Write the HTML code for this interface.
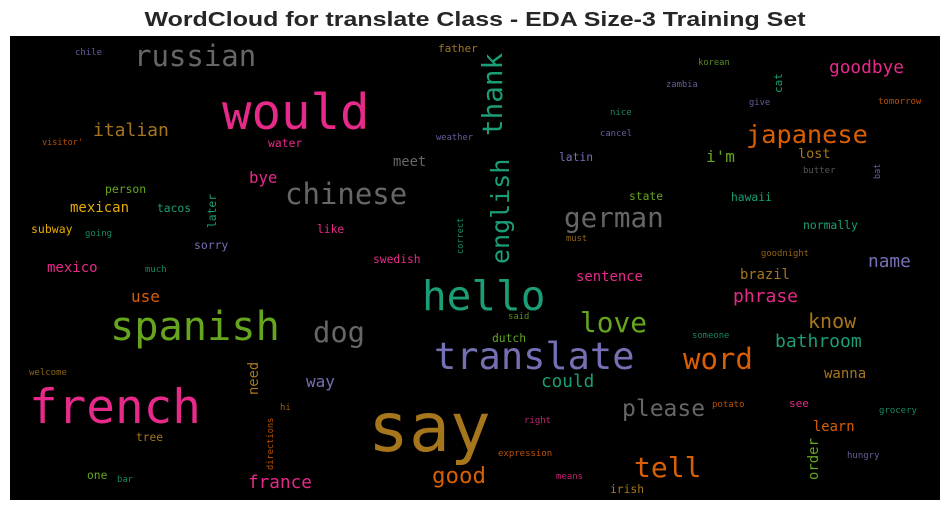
<!DOCTYPE html>
<html><head><meta charset="utf-8"><style>
html,body{margin:0;padding:0;background:#fff;width:950px;height:511px;overflow:hidden}
svg{display:block}
.w{font-family:"DejaVu Sans Mono","Liberation Mono",monospace}
</style></head><body>
<svg id="chart" width="950" height="511" viewBox="0 0 950 511">
<text x="475" y="26" text-anchor="middle" font-family="Liberation Sans, sans-serif" font-weight="bold" font-size="20" textLength="661" lengthAdjust="spacingAndGlyphs" fill="#262626">WordCloud for translate Class - EDA Size-3 Training Set</text>
<rect x="10" y="36" width="930" height="464" fill="#000"/>
<g id="words"></g>
</svg>
<script>
const words=["chile","russian","father","would","italian","visitor'","water","weather","meet","bye","chinese","person","mexican","tacos","later","subway","going","like","sorry","correct","swedish","mexico","much","thank","english","korean","goodbye","zambia","cat","give","tomorrow","nice","cancel","japanese","lost","i'm","latin","butter","bat","state","hawaii","german","normally","must","goodnight","name","use","spanish","dog","welcome","need","way","french","hi","tree","directions","one","bar","france","say","good","hello","sentence","brazil","phrase","love","said","know","dutch","someone","bathroom","translate","word","could","wanna","please","potato","see","grocery","right","learn","order","hungry","expression","tell","means","irish"];
const sizes=[9,29,11,49,18,8.5,11.4,8.8,13.8,15.7,29,11.4,14,11.3,11.3,11.5,9,11.3,11.4,8.6,11.3,14,9,27.6,25,8.8,17.8,8.8,11,8.8,9,9,8.9,25.3,13.5,16,11.3,9,8.5,11.3,11.3,27.6,11.4,8.8,8.9,17.8,16,40.3,28.8,9,13.8,16,47.6,9,11.2,8.7,11.3,8.9,17.7,68,22.4,41,13.9,13.8,18,27.8,8.9,20,11.3,8.9,18,37,29,17.7,14,23,9,11,9,9,13.8,13.9,9,9,28,9,11.3];
const colorKeys=["p","g","b","k","b","o","k","p","g","k","g","l","y","t","t","y","t","k","p","t","k","k","t","t","t","l","k","p","t","p","o","t","p","o","b","l","p","g","p","l","t","g","t","b","b","p","o","l","g","b","b","p","k","b","b","o","l","t","k","b","o","t","k","b","k","l","l","b","l","t","t","p","o","t","b","g","o","k","t","k","o","l","p","o","o","k","b"];
// layout: [x, baselineY, rotated]
const layout=[[75,55,0],[134,66,0],[438,52,0],[222,129,0],[93,136,0],[42,145,0],[268,147,0],[436,140,0],[393,166,0],[249,183,0],[285,204,0],[105,193,0],[70,212,0],[157,212,0],[216,228,1],[31,233,0],[85,236,0],[317,233,0],[194,249,0],[463,254,1],[373,263,0],[47,272,0],[145,272,0],[502,136,1],[509,264,1],[698,65,0],[829,73,0],[666,87,0],[782,93,1],[749,105,0],[878,104,0],[610,115,0],[600,136,0],[746,143,0],[798,158,0],[706,162,0],[559,161,0],[803,173,0],[880,179,1],[629,200,0],[731,201,0],[564,227,0],[803,229,0],[566,241,0],[761,256,0],[868,267,0],[131,302,0],[110,340,0],[313,342,0],[29,375,0],[258,395,1],[306,387,0],[29,423,0],[280,410,0],[136,441,0],[273,470,1],[87,479,0],[117,482,0],[248,488,0],[368,451,0],[432,483,0],[422,310,0],[576,281,0],[740,279,0],[733,302,0],[580,332,0],[508,319,0],[808,328,0],[492,342,0],[692,338,0],[775,347,0],[434,369,0],[683,369,0],[541,387,0],[824,378,0],[622,416,0],[712,407,0],[789,407,0],[879,413,0],[524,423,0],[813,431,0],[818,480,1],[847,458,0],[498,456,0],[634,477,0],[556,479,0],[610,493,0]];
const palette={t:"#1b9e77",o:"#d95f02",p:"#7570b3",k:"#e7298a",l:"#66a61e",y:"#e6ab02",b:"#a6761d",g:"#666666"};
const g=document.getElementById('words');
const NS="http://www.w3.org/2000/svg";
words.forEach((w,i)=>{
  const t=document.createElementNS(NS,'text');
  const [x,y,r]=layout[i];
  const s=sizes[i];
  t.setAttribute('class','w');
  t.setAttribute('x',x);
  t.setAttribute('y',y);
  t.setAttribute('font-size',s);
  t.setAttribute('fill',palette[colorKeys[i]]);
  if(s<10) t.setAttribute('opacity','0.85');
  if(r) t.setAttribute('transform','rotate(-90 '+x+' '+y+')');
  
  
  t.textContent=w;
  g.appendChild(t);
});
</script>
</body></html>
